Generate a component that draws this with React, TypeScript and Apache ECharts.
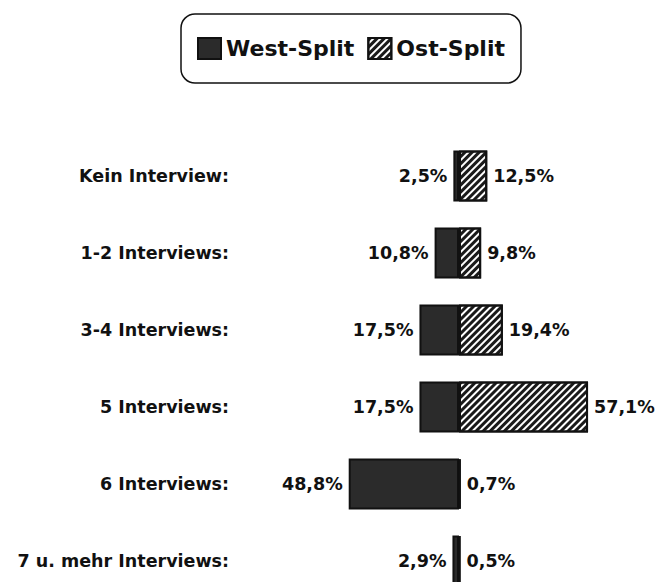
import React, { useEffect, useRef } from "react";
import * as echarts from "echarts";

const categories = [
  "Kein Interview:",
  "1-2 Interviews:",
  "3-4 Interviews:",
  "5 Interviews:",
  "6 Interviews:",
  "7 u. mehr Interviews:",
];
const westSplit = [2.5, 10.8, 17.5, 17.5, 48.8, 2.9];
const ostSplit = [12.5, 9.8, 19.4, 57.1, 0.7, 0.5];
const seriesNames = ["West-Split", "Ost-Split"];

const FONT = "DejaVu Sans";
const fmt = (v: number) => Math.abs(v).toFixed(1).replace(".", ",") + "%";

export default function App() {
  const ref = useRef<HTMLDivElement>(null);
  useEffect(() => {
    if (!ref.current) return;
    const chart = echarts.init(ref.current, null, { renderer: "svg" });
    const hatch = {
      symbol: "rect",
      symbolSize: 1,
      color: "#1a1a1a",
      dashArrayX: [1, 0],
      dashArrayY: [2.5, 2],
      rotation: -Math.PI / 4,
    };
    chart.setOption({
      animation: false,
      backgroundColor: "#ffffff",
      legend: {
        data: seriesNames,
        left: 181,
        top: 14,
        padding: [23, 16],
        borderColor: "#111",
        borderWidth: 1.5,
        borderRadius: 14,
        itemWidth: 23,
        itemHeight: 21,
        itemGap: 13,
        icon: "rect",
        textStyle: {
          fontFamily: FONT,
          fontWeight: "bold",
          fontSize: 22,
          color: "#111",
        },
      },
      grid: { left: 233, right: 64.4, top: 137.5, height: 462 },
      xAxis: {
        type: "value",
        min: -100,
        max: 60,
        show: false,
        splitLine: { show: false },
      },
      yAxis: {
        type: "category",
        inverse: true,
        data: categories,
        axisLine: { show: false },
        axisTick: { show: false },
        axisLabel: {
          margin: 4,
          fontFamily: FONT,
          fontWeight: "bold",
          fontSize: 17.5,
          color: "#111",
        },
      },
      series: [
        {
          name: seriesNames[0],
          type: "bar",
          stack: "total",
          barWidth: 51,
          data: westSplit.map((v) => -v),
          itemStyle: { color: "#2b2b2b", borderColor: "#111", borderWidth: 2 },
          label: {
            show: true,
            position: "left",
            distance: 6,
            formatter: (p: any) => fmt(p.value),
            fontFamily: FONT,
            fontWeight: "bold",
            fontSize: 17.5,
            color: "#111",
          },
        },
        {
          name: seriesNames[1],
          type: "bar",
          stack: "total",
          barWidth: 51,
          data: ostSplit,
          itemStyle: {
            color: "#ffffff",
            borderColor: "#111",
            borderWidth: 2,
            decal: hatch,
          },
          label: {
            show: true,
            position: "right",
            distance: 6,
            formatter: (p: any) => fmt(p.value),
            fontFamily: FONT,
            fontWeight: "bold",
            fontSize: 17.5,
            color: "#111",
          },
        },
      ],
    });
    return () => chart.dispose();
  }, []);
  return (
    <div
      style={{
        position: "fixed",
        left: 0,
        top: 0,
        width: 659,
        height: 582,
        overflow: "hidden",
        background: "#fff",
      }}
    >
      <div ref={ref} style={{ width: 659, height: 620 }} />
    </div>
  );
}
